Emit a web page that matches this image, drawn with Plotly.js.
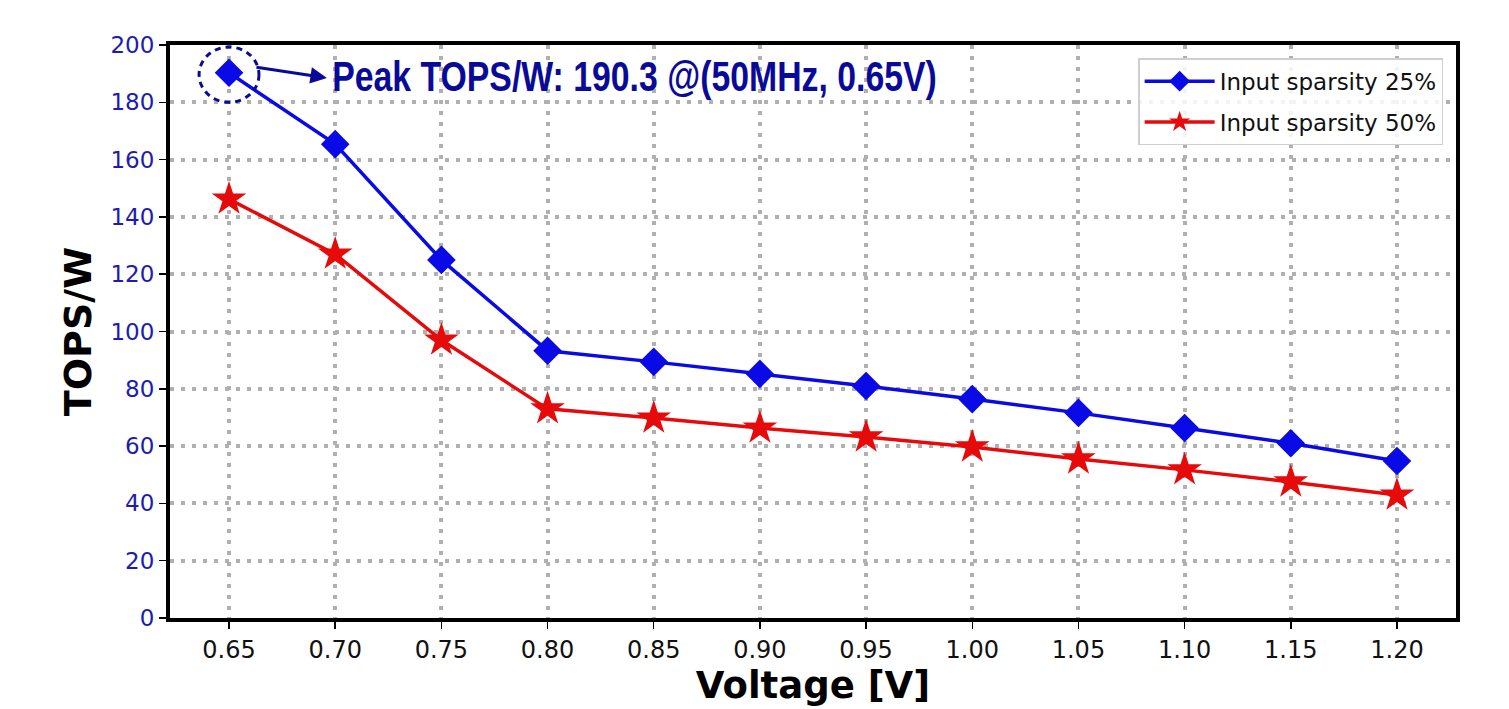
<!DOCTYPE html>
<html>
<head>
<meta charset="utf-8">
<script src="https://cdn.plot.ly/plotly-3.0.1.min.js"></script>
<style>html,body{margin:0;padding:0;background:#fff;}#chart{width:1509px;height:709px;}</style>
</head>
<body>
<div id="chart"></div>
<script>
const voltage = [0.65, 0.70, 0.75, 0.80, 0.85, 0.90, 0.95, 1.00, 1.05, 1.10, 1.15, 1.20];
const sparsity25 = [190.3, 165.4, 125.0, 93.3, 89.4, 85.2, 81.0, 76.4, 71.6, 66.3, 61.0, 54.8];
const sparsity50 = [146.2, 127.0, 97.0, 73.0, 69.8, 66.3, 63.2, 59.7, 55.5, 51.7, 47.5, 42.9];
const xTickLabels = ["0.65","0.70","0.75","0.80","0.85","0.90","0.95","1.00","1.05","1.10","1.15","1.20"];
const yTicks = [0,20,40,60,80,100,120,140,160,180,200];
const peakLabel = "Peak TOPS/W: 190.3 @(50MHz, 0.65V)";

const traces = [
  {x: voltage, y: sparsity25, name: "Input sparsity 25%", mode: "lines+markers", legendgroup: "a",
   line: {color: "#0a0ae6", width: 3.5}, marker: {symbol: "diamond", size: 22, color: "#0a0ae6"}},
  {x: voltage, y: sparsity50, name: "Input sparsity 50%", mode: "lines+markers", legendgroup: "b",
   line: {color: "#e60a0a", width: 3.5}, marker: {symbol: "star", size: 26, color: "#e60a0a"}}
];

const gridStyle = {showgrid: true, gridcolor: "#b0b0b0", gridwidth: 4, griddash: "4px,7px",
  showline: true, linecolor: "#000", linewidth: 4, mirror: true,
  ticks: "outside", ticklen: 7, tickwidth: 1.5, tickcolor: "#000", zeroline: false};

const layout = {
  width: 1509, height: 709,
  margin: {l: 170, r: 53, t: 45, b: 91},
  paper_bgcolor: "#fff", plot_bgcolor: "#fff",
  showlegend: true,
  legend: {x: 0.99, y: 0.977, xanchor: "right", yanchor: "top",
    bgcolor: "rgba(255,255,255,0.85)", bordercolor: "#cfcfcf", borderwidth: 1.5,
    font: {family: "DejaVu Sans", size: 23, color: "#111"}, tracegroupgap: 8, itemwidth: 70},
  xaxis: Object.assign({range: [0.6222, 1.2278], tickvals: voltage, ticktext: xTickLabels,
    tickfont: {family: "DejaVu Sans", size: 24, color: "#111"},
    title: {text: "Voltage [V]", font: {family: "DejaVu Sans", size: 37, color: "#000", weight: "bold"}, standoff: 10}}, gridStyle),
  yaxis: Object.assign({range: [0, 200], tickvals: yTicks,
    tickfont: {family: "DejaVu Sans", size: 23, color: "#1c1cb0"},
    title: {text: "TOPS/W", font: {family: "DejaVu Sans", size: 38, color: "#000", weight: "bold"}, standoff: 8}}, gridStyle),
  shapes: [
    {type: "circle", xref: "x", yref: "y", x0: 0.6359, x1: 0.6641, y0: 180.0, y1: 199.3,
     line: {color: "#0a0a99", width: 3, dash: "6px,5px"}}
  ],
  annotations: [
    {x: 0.6961, y: 188.5, xref: "x", yref: "y", ax: -72, ay: -11,
     text: "", showarrow: true, arrowhead: 2, arrowsize: 1.1, arrowwidth: 3, arrowcolor: "#0a0a99", standoff: 0},
    {x: 0.6975, y: 189.0, xref: "x", yref: "y", xanchor: "left", yanchor: "middle",
     text: "<b>" + peakLabel + "</b>", showarrow: false,
     font: {family: "Liberation Sans", size: 42, color: "#0a0a99"}}
  ]
};

Plotly.newPlot("chart", traces, layout, {displayModeBar: false, staticPlot: true}).then(function () {
  // condense the annotation text horizontally to mimic a narrow bold face
  const texts = document.querySelectorAll(".annotation-text");
  texts.forEach(function (t) {
    if (t.textContent.indexOf("Peak") === -1) return;
    const bb = t.getBBox();
    const s = 605 / bb.width;
    t.setAttribute("transform", "translate(" + bb.x + ",0) scale(" + s + ",1) translate(" + (-bb.x) + ",0)");
  });
});
</script>
</body>
</html>
